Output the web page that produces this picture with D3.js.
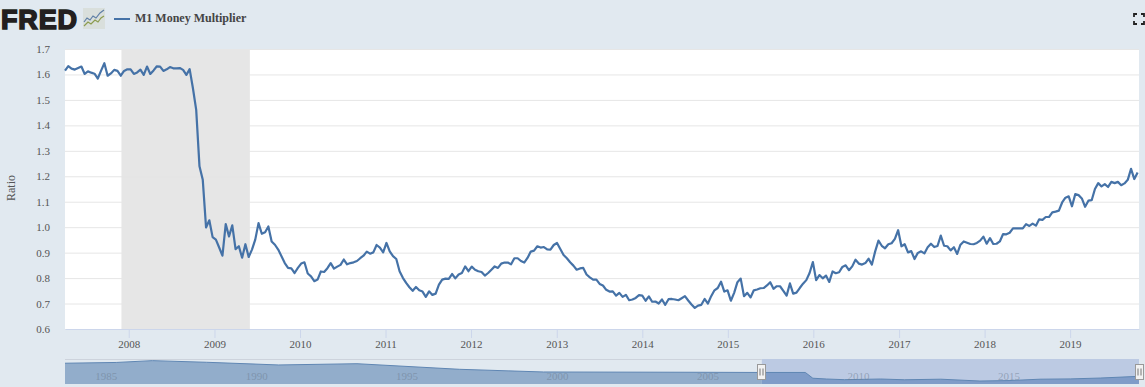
<!DOCTYPE html>
<html>
<head>
<meta charset="utf-8">
<script src="https://cdnjs.cloudflare.com/ajax/libs/d3/7.8.5/d3.min.js"></script>
<style>
  html, body { margin: 0; padding: 0; background: #e1e9f0; overflow: hidden; }
  svg { display: block; }
  text { font-family: "Liberation Serif", serif; }
</style>
</head>
<body>
<script>
// biweekly readings, first one is early April 2007
const firstDate = new Date(2007, 3, 4);
const values = [
    1.615,1.633,1.623,1.619,1.625,1.631,1.602,1.612,1.607,1.603,
    1.584,1.615,1.644,1.595,1.604,1.618,1.614,1.595,1.614,1.620,
    1.620,1.602,1.608,1.619,1.598,1.631,1.602,1.616,1.632,1.631,
    1.614,1.620,1.629,1.624,1.624,1.625,1.618,1.598,1.621,1.546,
    1.461,1.239,1.186,.999,1.027,.961,.951,.920,.888,1.012,
    .964,1.007,.914,.925,.880,.933,.883,.912,.951,1.016,
    .974,.980,1.003,.944,.931,.912,.886,.859,.840,.838,
    .820,.840,
    .857,.862,.818,.807,.788,.794,.826,.824,.839,.859,
    .837,.845,.852,.873,.854,.859,.862,.867,.878,.888,
    .904,.896,.901,.930,.920,.901,.938,.905,.886,.875,
    .827,.801,.781,.764,.750,.765,.752,.747,.726,.748,
    .734,.739,.774,.794,.798,.797,.816,.799,.814,.820,
    .846,.827,.845,.833,.827,.824,.810,.820,.833,.846,
    .840,.857,.861,.861,.854,.878,.878,.867,.861,.879,
    .904,.908,.925,.920,.922,.913,.912,.930,.938,.914,
    .891,.878,.862,.849,.833,.838,
    .840,.814,.803,.794,.794,.777,.771,.754,.747,.748,
    .731,.742,.726,.734,.713,.716,.722,.733,.731,.711,
    .728,.707,.708,.700,.716,.695,.717,.718,.716,.713,
    .721,.729,.712,.696,.683,.692,.695,.718,.700,.729,
    .752,.761,.786,.747,.752,.711,.742,.784,.798,.729,
    .742,.724,.752,.755,.760,.761,.771,.784,.758,.768,
    .768,.750,.731,.779,.739,.743,.761,.778,.792,.820,
    .863,.792,.812,.799,.810,.785,.826,.819,.823,.844,
    .850,.831,
    .846,.872,.857,.853,.859,.876,.853,.905,.947,.927,
    .917,.933,.937,.954,.988,.925,.933,.901,.906,.875,
    .899,.905,.897,.921,.935,.922,.926,.967,.927,.925,
    .909,.921,.895,.931,.944,.939,.934,.933,.938,.947,
    .963,.935,.957,.934,.935,.944,.973,.972,.978,.995,
    .995,.995,.995,1.012,1.005,1.014,1.006,1.031,1.029,1.040,
    1.040,1.058,1.061,1.065,1.097,1.116,1.121,1.082,1.130,1.126,
    1.113,1.080,1.104,1.106,1.150,1.173,1.160,1.169,1.158,1.178,
    1.173,1.178,1.165,1.172,1.186,1.229,1.189,1.215
];
const yTicks = [0.6, 0.7, 0.8, 0.9, 1.0, 1.1, 1.2, 1.3, 1.4, 1.5, 1.6, 1.7];
const xTickYears = [2008, 2009, 2010, 2011, 2012, 2013, 2014, 2015, 2016, 2017, 2018, 2019];
const recession = [new Date(2007, 11, 1), new Date(2009, 5, 1)];

// navigator strip, long history
const navYears = [1984.1, 1985.8, 1987, 1988.8, 1991.2, 1993.8, 1997.2, 2000, 2005.2, 2007.2, 2008.7, 2008.95, 2009.4, 2010, 2011.2, 2012, 2013.2, 2014.5, 2015.5, 2016.5, 2017.5, 2018.5, 2019.8];
const navValues = [2.56, 2.64, 2.83, 2.66, 2.38, 2.51, 1.93, 1.65, 1.62, 1.60, 1.60, 1.00, .92, .85, .92, .84, .90, .71, .76, .90, .93, 1.02, 1.20];
const navLabelYears = [1985, 1990, 1995, 2000, 2005, 2010, 2015];

const width = 1145, height = 387;
const margin = { top: 49, right: 6, bottom: 58, left: 65 };

const dates = values.map((v, i) => d3.timeDay.offset(firstDate, i * 14));
const lastDate = dates[dates.length - 1];
const data = values.map((v, i) => ({ date: dates[i], value: v }));

const svg = d3.select("body").append("svg")
    .attr("width", width)
    .attr("height", height)
    .attr("viewBox", [0, 0, width, height]);

// the axis runs a few days past the last reading
const x = d3.scaleTime()
    .domain([firstDate, d3.timeDay.offset(lastDate, 6)])
    .range([margin.left, width - margin.right]);
const y = d3.scaleLinear()
    .domain([0.6, 1.7])
    .range([height - margin.bottom, margin.top]);

// plot background
svg.append("rect")
    .attr("x", margin.left)
    .attr("y", margin.top)
    .attr("width", width - margin.left - margin.right)
    .attr("height", height - margin.top - margin.bottom)
    .attr("fill", "#fff");

// recession band
svg.append("rect")
    .attr("x", x(recession[0]))
    .attr("y", margin.top)
    .attr("width", x(recession[1]) - x(recession[0]))
    .attr("height", height - margin.top - margin.bottom)
    .attr("fill", "#e6e6e6");

// y axis with gridlines
svg.append("g")
    .attr("transform", `translate(${margin.left},0)`)
    .call(d3.axisLeft(y).tickValues(yTicks).tickFormat(d3.format(".1f")).tickSize(0).tickPadding(15))
    .call(g => g.select(".domain").remove())
    .call(g => g.selectAll(".tick text").attr("fill", "#555").style("font-size", "11px"))
    .call(g => g.selectAll(".tick line").clone()
        .attr("x2", width - margin.left - margin.right)
        .attr("stroke", "#e6e6e6"));

// x axis
svg.append("g")
    .attr("transform", `translate(0,${height - margin.bottom})`)
    .call(d3.axisBottom(x)
        .tickValues(xTickYears.map(d => new Date(d, 0, 1)))
        .tickFormat(d3.timeFormat("%Y"))
        .tickSize(9).tickPadding(2).tickSizeOuter(0))
    .call(g => g.select(".domain").attr("stroke", "#ccd6eb"))
    .call(g => g.selectAll(".tick line").attr("stroke", "#ccd6eb"))
    .call(g => g.selectAll(".tick text").attr("fill", "#555").style("font-size", "11px"));

svg.append("text")
    .attr("transform", "translate(15,188) rotate(-90)")
    .attr("text-anchor", "middle")
    .attr("fill", "#555")
    .style("font-size", "12px")
    .text("Ratio");

// main line
svg.append("path")
    .datum(data)
    .attr("fill", "none")
    .attr("stroke", "#4572a7")
    .attr("stroke-width", 2.2)
    .attr("stroke-linejoin", "round")
    .attr("d", d3.line().x(d => x(d.date)).y(d => y(d.value)));

// header: logo and legend
svg.append("text")
    .attr("x", 1)
    .attr("y", 29)
    .style("font-family", "'Liberation Sans', sans-serif")
    .style("font-size", "27px")
    .style("font-weight", "bold")
    .style("stroke", "#231f20")
    .style("stroke-width", "1.6px")
    .attr("fill", "#231f20")
    .attr("textLength", 76)
    .text("FRED");

const logo = svg.append("g").attr("transform", "translate(83,8)");
logo.append("rect").attr("width", 22).attr("height", 21).attr("fill", "#d9dfdc");
logo.append("path").attr("d", "M1,14 L4,10 L7,12 L10,8 L13,10 L17,5 L21,2").attr("fill", "none").attr("stroke", "#5f7fa6").attr("stroke-width", 1.2);
logo.append("path").attr("d", "M1,18 L5,14 L8,16 L12,12 L15,14 L18,10 L21,8").attr("fill", "none").attr("stroke", "#8c9c4f").attr("stroke-width", 1.2);

svg.append("line")
    .attr("x1", 114).attr("x2", 130)
    .attr("y1", 19).attr("y2", 19)
    .attr("stroke", "#4572a7")
    .attr("stroke-width", 2);
svg.append("text")
    .attr("x", 135)
    .attr("y", 22)
    .attr("fill", "#444")
    .style("font-size", "12px")
    .style("font-weight", "bold")
    .text("M1 Money Multiplier");

// fullscreen corners
svg.append("path")
    .attr("d", "M1134,17 V14 H1137 M1141,14 H1144 V17 M1144,21 V24 H1141 M1137,24 H1134 V21")
    .attr("fill", "none")
    .attr("stroke", "#222")
    .attr("stroke-width", 1.8);

// navigator
const navTop = 359, navBottom = 384;
const yearDate = yr => {
    const whole = Math.floor(yr);
    return d3.timeDay.offset(new Date(whole, 0, 1), Math.round((yr - whole) * 365));
};
const navData = navYears.map((yr, i) => ({ date: yearDate(yr), value: navValues[i] }));
const xNav = d3.scaleTime()
    .domain([yearDate(1984.1), lastDate])
    .range([margin.left, width - margin.right]);
const yNav = d3.scaleLinear()
    .domain([0.4, 3.0])
    .range([navBottom, navTop]);

const selLeft = xNav(dates[0]), selRight = width - margin.right;

svg.append("clipPath").attr("id", "navOut")
    .append("rect").attr("x", margin.left).attr("y", navTop).attr("width", selLeft - margin.left).attr("height", navBottom - navTop);
svg.append("clipPath").attr("id", "navIn")
    .append("rect").attr("x", selLeft).attr("y", navTop).attr("width", selRight - selLeft).attr("height", navBottom - navTop);

svg.append("rect")
    .attr("x", selLeft).attr("y", navTop)
    .attr("width", selRight - selLeft).attr("height", navBottom - navTop)
    .attr("fill", "#bccae3");
svg.append("line")
    .attr("x1", margin.left).attr("x2", selLeft)
    .attr("y1", navTop + 0.5).attr("y2", navTop + 0.5)
    .attr("stroke", "#cdd3dc");

const navArea = d3.area().x(d => xNav(d.date)).y0(navBottom).y1(d => yNav(d.value));
svg.append("path").datum(navData).attr("clip-path", "url(#navOut)").attr("fill", "#92adcb").attr("d", navArea);
svg.append("path").datum(navData).attr("clip-path", "url(#navIn)").attr("fill", "#7f9cc8").attr("d", navArea);
svg.append("path").datum(navData)
    .attr("fill", "none").attr("stroke", "#5f86b3").attr("stroke-width", 1)
    .attr("d", d3.line().x(d => xNav(d.date)).y(d => yNav(d.value)));

svg.append("g").selectAll("text")
    .data(navLabelYears)
    .join("text")
    .attr("x", d => xNav(new Date(d, 0, 1)) + 3)
    .attr("y", 380)
    .attr("fill", "#6f7f93")
    .attr("fill-opacity", 0.55)
    .style("font-size", "11px")
    .text(d => d);

svg.append("g").selectAll("g")
    .data([selLeft, selRight])
    .join("g")
    .attr("transform", d => `translate(${Math.floor(d) + 0.5},364.5)`)
    .call(g => g.append("rect").attr("x", -4).attr("width", 8).attr("height", 15).attr("fill", "#f2f2f2").attr("stroke", "#999"))
    .call(g => g.append("path").attr("d", "M-1.5,4 V11 M1.5,4 V11").attr("stroke", "#777").attr("fill", "none"));
</script>
</body>
</html>
